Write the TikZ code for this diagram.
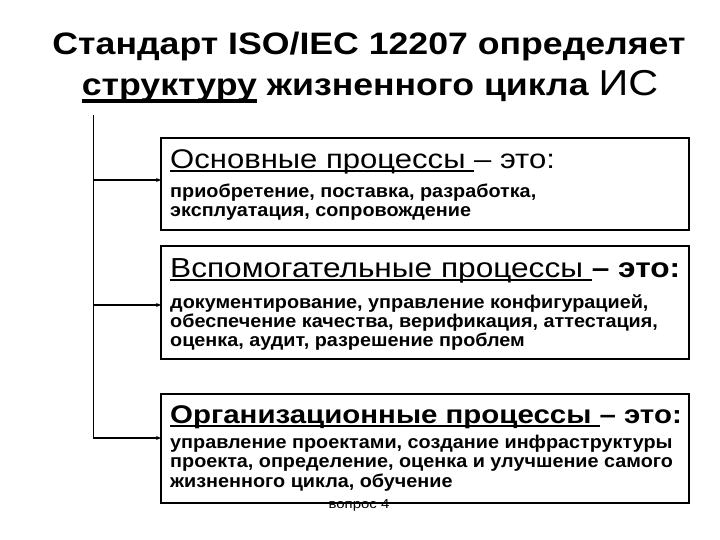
\documentclass[tikz,border=0pt]{standalone}
\usepackage{fontspec}
\setmainfont{Liberation Sans}[FakeStretch=1.15]
\newfontfamily\bodyfont{Liberation Sans}[FakeStretch=1.07]
\usepackage{tikz}
\usetikzlibrary{positioning, arrows.meta, calc}
\tikzstyle{procbox} = [draw, line width=1.2pt, inner sep=0pt, outer sep=0pt, minimum width=528pt, anchor=north west]
\tikzstyle{headtext} = [inner sep=0pt, anchor=base west, font=\fontsize{27}{30}\selectfont]
\tikzstyle{bodytext} = [inner sep=0pt, anchor=base west, font=\bodyfont\fontsize{18.5}{20}\selectfont\bfseries]
\tikzstyle{titletext} = [inner sep=0pt, anchor=base, font=\fontsize{31}{36}\selectfont\bfseries]
\tikzstyle{arrow} = [line width=1.4pt, -{Stealth[length=5pt, width=4pt]}]
\tikzstyle{trunk} = [line width=1pt]
\newsavebox{\ulbox}
\newcommand{\bigul}[1]{\sbox{\ulbox}{#1}\rlap{\rule[-7pt]{\wd\ulbox}{3.5pt}}\usebox{\ulbox}}
\newcommand{\headul}[1]{\sbox{\ulbox}{#1}\rlap{\rule[-3.5pt]{\wd\ulbox}{2pt}}\usebox{\ulbox}}
\begin{document}
\begin{tikzpicture}[x=1pt, y=-1pt]
                \useasboundingbox (0,0) rectangle (720,540);
                % Title
                \node[titletext] (title1) at (369,55) {Стандарт ISO/IEC 12207 определяет};
                \node[titletext] (title2) at (370,96) {\bigul{структуру} жизненного цикла {\mdseries\fontsize{36}{36}\selectfont ИС}};
                
                % Boxes
                \node[procbox, minimum height=92pt] (box1) at (161,138) {};
                \node[procbox, minimum height=113pt] (box2) at (161,246) {};
                \node[procbox, minimum height=109pt] (box3) at (161,394) {};
                
                % Box texts
                \node[headtext] (head1) at (170,169) {\headul{Основные процессы }– это:};
                \node[bodytext] (body1a) at (170,198) {приобретение, поставка, разработка,};
                \node[bodytext] (body1b) at (170,217) {эксплуатация, сопровождение};
                
                \node[headtext, font=\fontsize{27.5}{30}\selectfont] (head2) at (170,277) {\headul{Вспомогательные процессы }\textbf{– это:}};
                \node[bodytext] (body2a) at (170,308) {документирование, управление конфигурацией,};
                \node[bodytext] (body2b) at (170,327) {обеспечение качества, верификация, аттестация,};
                \node[bodytext] (body2c) at (170,346) {оценка, аудит, разрешение проблем};
                
                \node[headtext, font=\fontsize{25.6}{30}\selectfont\bfseries] (head3) at (170,423) {\headul{Организационные процессы }– это:};
                \node[bodytext] (body3a) at (170,448) {управление проектами, создание инфраструктуры};
                \node[bodytext] (body3b) at (170,467) {проекта, определение, оценка и улучшение самого};
                \node[bodytext] (body3c) at (170,487) {жизненного цикла, обучение};
                
                % Footer
                \node[inner sep=0pt, anchor=base, font=\fontsize{13}{14}\selectfont] (footer) at (359,508) {вопрос 4};
                
                % Connectors
                \coordinate (top) at (93,115);
                \coordinate (t1) at (93,180);
                \coordinate (t2) at (93,305);
                \coordinate (t3) at (93,438);
                \draw[trunk] (top) -- (t3);
                \draw[arrow] (t1) -- (t1 -| box1.west);
                \draw[arrow] (t2) -- (t2 -| box2.west);
                \draw[arrow] (t3) -- (t3 -| box3.west);
            \end{tikzpicture}
\end{document}
